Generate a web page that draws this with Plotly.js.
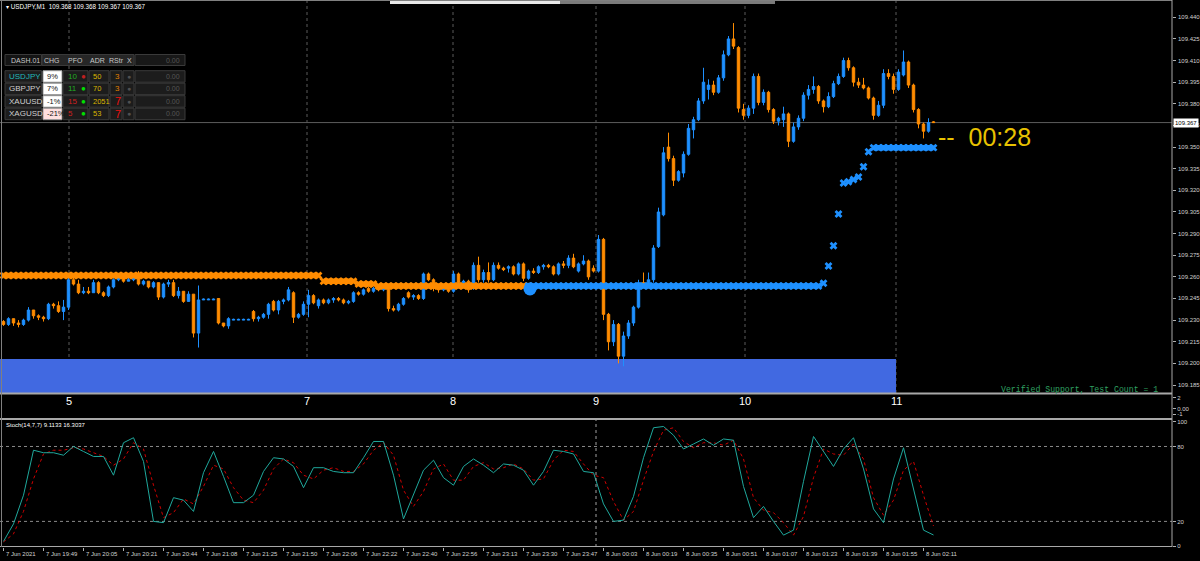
<!DOCTYPE html>
<html><head><meta charset="utf-8">
<script src="https://cdn.plot.ly/plotly-3.0.1.min.js"></script>
<style>html,body{margin:0;padding:0;background:#000;overflow:hidden}#chart{width:1200px;height:561px}</style>
</head><body><div id="chart"></div>
<script>
// ---------- DATA (prices in points above 109.000) ----------
const BASE = 109;
const openPts = [
229,227,231,228,227,230,237,233,232,231,
241,240,236,239,258,255,249,250,249,256,
249,247,253,258,260,257,258,259,255,257,
253,256,246,255,256,247,250,243,248,221,
244,244,244,245,228,226,230,230,230,230,
236,231,232,234,243,237,243,244,249,232,
234,241,247,240,244,242,244,245,244,242,
243,249,248,252,250,252,251,252,238,237,
241,249,246,247,245,262,258,252,251,252,
250,262,256,257,252,268,258,263,258,268,
266,266,267,262,269,259,264,263,267,268,
267,262,269,268,273,264,269,271,266,264,
286,234,215,227,205,219,228,239,256,255,
258,281,303,350,342,327,332,345,362,369,
382,390,393,388,398,414,425,419,376,372,
377,399,381,388,376,368,369,373,354,364,
370,386,390,392,382,378,385,394,399,410,
405,395,393,391,384,372,379,401,399,390,
400,409,393,376,366,361,367.5];
const highPts = [
230,232,231,230,231,239,237,234,233,242,
242,243,244,260,260,258,253,253,258,257,
250,254,259,262,261,260,260,264,258,257,
257,256,256,258,258,253,250,250,248,254,
245,245,245,245,228,232,231,231,231,231,
237,233,235,242,244,244,245,253,250,235,
243,251,248,245,245,245,246,246,245,244,
250,250,252,253,253,253,253,253,240,242,
246,250,248,248,263,263,259,253,253,253,
264,263,258,258,270,274,265,270,270,270,
267,268,268,270,270,265,266,268,269,269,
268,270,271,275,276,270,275,272,268,289,
287,235,230,228,222,230,240,258,263,263,
282,308,350,360,344,334,347,366,371,384,
405,397,396,400,417,427,436,420,380,379,
401,401,390,389,377,371,378,374,367,372,
388,393,399,393,383,388,396,401,412,412,
406,398,398,392,385,382,404,404,401,404,
417,410,394,377,367,370,368];
const lowPts = [
226,226,226,225,226,229,231,230,229,230,
238,235,230,237,254,248,248,248,249,248,
246,246,252,257,256,257,257,254,254,252,
252,244,245,253,246,245,242,243,218,211,
244,244,244,227,225,224,230,230,230,230,
229,229,231,231,236,234,241,243,228,231,
233,232,241,238,241,241,242,243,241,241,
242,247,247,249,249,250,250,236,236,236,
240,245,244,244,244,257,250,249,250,249,
249,255,254,249,251,256,256,256,257,265,
264,263,261,261,257,258,262,262,265,266,
261,261,266,266,266,263,268,258,263,263,
230,209,212,200,198,217,226,238,254,254,
256,280,302,340,323,326,329,344,356,368,
380,383,386,387,396,413,418,374,369,370,
373,379,379,374,366,365,364,350,353,362,
368,383,387,380,374,377,384,393,398,403,
392,391,390,383,369,371,377,397,387,389,
399,391,374,363,356,360,367];
const closePts = [
227,231,228,227,230,237,233,232,231,241,
240,236,239,258,255,249,250,249,256,249,
247,253,258,260,257,258,259,255,257,253,
256,246,255,256,247,250,243,248,221,244,
244.5,244.5,244.5,228,226,231,230.5,230.5,230.5,230.5,
231,232,234,241,237,243,244,251,232,234,
241,247,242,244,242,244,245,244,242,243,
249,248,251,250,252,251,252,238,237,241,
245,246,247,245,262,258,252,251,252,250,
262,256,257,251,268,258,263,258,268,266,
265,267,262,269,259,264,263,267,268,267,
262,269,268,273,267,269,271,260,264,286,
234,215,227,205,219,228,239,256,255,258,
280,305,346,342,327,333,345,363,369,382,
395,393,388,398,414,425,420,377,372,377,
399,381,388,376,368,370,373,354,364,370,
386,390,392,382,378,385,394,399,410,405,
395,393,391,384,372,379,401,399,390,402,
409,393,376,366,361,367,367];
// trailing-stop steps: [firstBar, lastBar, level in points]
const trailOrangeSteps = [[0,63,261],[64,70,257],[71,74,255],[75,105,253.7]];
const trailBlueSteps = [[105,163,253.7],[164,164,255.6],[165,165,267.5],[166,166,281.6],[167,167,303.6],
  [168,168,325.1],[169,169,326],[170,170,327.5],[171,171,329.3],[172,172,336.4],[173,173,346.8],[174,186,349.6]];
const switchDot = {bar:105.3, pts:251.6};
// Stochastic (every second bar)
const stochMain = [
4,18,41,77,75,75,73,80,76,72,
72,57,83,87,68,20,19,39,37,28,
59,76,56,35,35,41,60,71,70,64,
47,63,63,60,59,59,71,84,84,57,
22,42,61,69,55,49,64,70,65,59,
66,65,61,49,60,77,76,74,60,59,
34,20,21,40,71,95,96,89,78,82,
86,81,86,85,48,23,32,20,9,13,
52,88,76,64,78,87,62,30,19,54,
79,47,13,9.1133];
const stochSignal = [
3.6,10,28,54,74,77,77,79,78,75,
72,65,70,83,78,49,23,27,38,34,
48,65,62,47,37,35,45,62,70,67,
57,54,61,63,60,60,66,77,83,73,
45,32,44,62,66,53,53,64,67,62,
63,66,62,53,54,69,77,76,66,57,
55,36,21,28,53,76,93,95,84,79,
83,83,81,85,70,39,29,27,19,9,
24,55,78,74,73,82,70,39,25,37,
61,68,41,16.3037];
const stochLevels = [20, 80];
const stochTicks = [0, 20, 80, 100];
const priceTicks = [109.185,109.200,109.215,109.230,109.245,109.260,109.275,109.290,109.305,
  109.320,109.335,109.350,109.365,109.380,109.395,109.410,109.425,109.440];
const timeLabels = ['7 Jun 2021','7 Jun 19:49','7 Jun 20:05','7 Jun 20:21','7 Jun 20:44','7 Jun 21:08',
 '7 Jun 21:25','7 Jun 21:50','7 Jun 22:06','7 Jun 22:22','7 Jun 22:40','7 Jun 22:56','7 Jun 23:13',
 '7 Jun 23:30','7 Jun 23:47','8 Jun 00:03','8 Jun 00:19','8 Jun 00:35','8 Jun 00:51','8 Jun 01:07',
 '8 Jun 01:23','8 Jun 01:39','8 Jun 01:55','8 Jun 02:11'];
const barsPerLabel = 8;
const hourSepBars = [13.1, 60.7, 89.9, 118.5, 148.3, 178.5];
const hourSepLabels = ['5','7','8','9','10','11'];
const daySepBar = 118.5;
const supportTop = 109.203, supportEndBar = 178.5;
const bidPrice = 109.367;
const headerText = 'USDJPY,M1';
const headerQuote = ['109.368','109.368','109.367','109.367'];
const stochTitle = 'Stoch(14,7,7) 9.1133 16.3037';
const timerText = '00:28';
const zoneText = 'Verified Support, Test Count = 1';
const dashTitle = 'DASH.01';
const dashCols = ['CHG','PFO','ADR','RStr','X'];
const dashSymbols = ['USDJPY','GBPJPY','XAUUSD','XAGUSD'];
const dashChg = ['9%','7%','-1%','-21%'];
const dashPfo = [10,11,15,5];
const dashAdr = [50,70,2051,53];
const dashRstr = [3,3,7,7];
const dashValue = '0.00';

// ---------- STYLE / LAYOUT ----------
const BULL = '#1e90ff', BEAR = '#ff8c00';
const W = 1172, H = 547;
const px = x => x / W, py = y => 1 - y / H;
const P = v => BASE + v / 1000;
const FONT = 'Liberation Sans, Arial, sans-serif';
const bars = closePts.map((_, i) => i);
const xRange = [-0.7, 233.7];

function stepsToPoints(steps, withGaps){
  const xs=[], ys=[];
  steps.forEach(([a,b,v])=>{ for(let i=a;i<=b;i++){xs.push(i);ys.push(P(v));} if(withGaps){xs.push(null);ys.push(null);} });
  return {xs, ys};
}
const tO = stepsToPoints(trailOrangeSteps,false), tOl = stepsToPoints(trailOrangeSteps,true);
const tB = stepsToPoints(trailBlueSteps,false), tBl = stepsToPoints(trailBlueSteps.filter(s=>s[1]>s[0]),true);

const traces = [
 {type:'candlestick', x:bars, open:openPts.map(P), high:highPts.map(P), low:lowPts.map(P), close:closePts.map(P),
  xaxis:'x', yaxis:'y', whiskerwidth:0, hoverinfo:'skip',
  increasing:{line:{color:BULL,width:1}, fillcolor:BULL},
  decreasing:{line:{color:BEAR,width:1}, fillcolor:BEAR}},
 {type:'scatter', mode:'lines', x:tOl.xs, y:tOl.ys, line:{color:BEAR,width:5.5}, hoverinfo:'skip', xaxis:'x', yaxis:'y'},
 {type:'scatter', mode:'markers', x:tO.xs, y:tO.ys, marker:{symbol:'x', size:7, color:BEAR}, hoverinfo:'skip', xaxis:'x', yaxis:'y'},
 {type:'scatter', mode:'lines', x:tBl.xs, y:tBl.ys, line:{color:BULL,width:5.5}, hoverinfo:'skip', xaxis:'x', yaxis:'y'},
 {type:'scatter', mode:'markers', x:tB.xs, y:tB.ys, marker:{symbol:'x', size:7, color:BULL}, hoverinfo:'skip', xaxis:'x', yaxis:'y'},
 {type:'scatter', mode:'markers', x:[switchDot.bar], y:[P(switchDot.pts)], marker:{symbol:'circle', size:13, color:BULL}, hoverinfo:'skip', xaxis:'x', yaxis:'y'},
 {type:'scatter', mode:'lines', x:[0], y:[null], xaxis:'x', yaxis:'y2', hoverinfo:'skip'},
 {type:'scatter', mode:'lines', x:stochSignal.map((_,k)=>2*k), y:stochSignal, line:{color:'#d00000',width:1,dash:'dot'}, hoverinfo:'skip', xaxis:'x', yaxis:'y3'},
 {type:'scatter', mode:'lines', x:stochMain.map((_,k)=>2*k), y:stochMain, line:{color:'#1fa89c',width:1}, hoverinfo:'skip', xaxis:'x', yaxis:'y3'}
];

const axisFont = {family:FONT, size:6, color:'#d0d0d0'};
const shapes = [];
const ann = [];
// support zone
shapes.push({type:'rect', xref:'x', yref:'y', x0:xRange[0], x1:supportEndBar, y0:P(179.4), y1:supportTop, fillcolor:'#4169e1', line:{width:0}, layer:'below'});
// hour separators
hourSepBars.forEach((b,i)=>{
  shapes.push({type:'line', xref:'x', yref:'paper', x0:b, x1:b, y0:py(393), y1:1, line:{color:'#5a5a5a', width:1, dash:'dot'}, layer:'below'});
  ann.push({xref:'x', yref:'paper', x:b, y:py(401), text:hourSepLabels[i], showarrow:false, xanchor:'center', yanchor:'middle', font:{family:FONT,size:11,color:'#ffffff'}});
});
shapes.push({type:'line', xref:'x', yref:'paper', x0:daySepBar, x1:daySepBar, y0:0, y1:py(419), line:{color:'#a0a0a0', width:1, dash:'dot'}});
// stoch levels
stochLevels.forEach(l=>shapes.push({type:'line', xref:'paper', yref:'y3', x0:0, x1:1, y0:l, y1:l, line:{color:'#8a8a8a', width:1, dash:'dot'}, layer:'below'}));
// bid line
shapes.push({type:'line', xref:'paper', yref:'y', x0:0, x1:1, y0:bidPrice, y1:bidPrice, line:{color:'#5c5c5c', width:1}, layer:'below'});
// frame
const frameC = '#a8a8a8';
shapes.push({type:'line', xref:'paper', yref:'paper', x0:0, x1:1, y0:py(393.5), y1:py(393.5), line:{color:frameC,width:2}});
shapes.push({type:'line', xref:'paper', yref:'paper', x0:0, x1:1, y0:py(419), y1:py(419), line:{color:frameC,width:2}});
shapes.push({type:'line', xref:'paper', yref:'paper', x0:0, x1:1, y0:py(546.5), y1:py(546.5), line:{color:frameC,width:1}});
shapes.push({type:'line', xref:'paper', yref:'paper', x0:0, x1:1, y0:py(0.5), y1:py(0.5), line:{color:'#808080',width:1}});
shapes.push({type:'line', xref:'paper', yref:'paper', x0:px(1.5), x1:px(1.5), y0:0, y1:1, line:{color:'#808080',width:1}});
shapes.push({type:'line', xref:'paper', yref:'paper', x0:1, x1:1, y0:0, y1:1, line:{color:frameC,width:1}});
// top scroll indicator
shapes.push({type:'rect', xref:'paper', yref:'paper', x0:px(390), x1:px(560), y0:py(4), y1:py(1), fillcolor:'#e8e8e8', line:{width:0}});
shapes.push({type:'rect', xref:'paper', yref:'paper', x0:px(560), x1:px(775), y0:py(4), y1:py(1), fillcolor:'#7a7a7a', line:{width:0}});

// price-scale labels (placed at the main axis' tick values; ticks themselves come from the axis)
priceTicks.forEach(v=>ann.push({xref:'paper', yref:'y', x:px(1175.5), y:v, xanchor:'left', yanchor:'middle',
  showarrow:false, text:v.toFixed(3), font:axisFont}));
// time labels (left-aligned at their tick, as in the terminal)
timeLabels.forEach((t,k)=>ann.push({xref:'x', yref:'paper', x:k*barsPerLabel, y:py(553.5), xanchor:'left', yanchor:'middle',
  showarrow:false, text:t, font:axisFont}));
// header text
ann.push({xref:'paper', yref:'paper', x:px(4), y:py(6), xanchor:'left', yanchor:'middle', showarrow:false,
  text:'\u25BE ' + headerText + '\u00a0\u00a0' + headerQuote.join(' '), font:{family:FONT,size:6.3,color:'#ffffff'}});
ann.push({xref:'paper', yref:'paper', x:px(4), y:py(425), xanchor:'left', yanchor:'middle', showarrow:false,
  text:stochTitle, font:{family:FONT,size:6,color:'#ffffff'}});
// timer
ann.push({xref:'paper', yref:'paper', x:px(936), y:py(136.5), xanchor:'left', yanchor:'middle', showarrow:false,
  text:'--\u00a0\u00a0' + timerText, font:{family:FONT,size:25,color:'#e8c200'}});
// zone label
ann.push({xref:'paper', yref:'paper', x:px(1160), y:py(389), xanchor:'right', yanchor:'middle', showarrow:false,
  text:zoneText, font:{family:'Liberation Mono, monospace',size:8.2,color:'#2fa060'}});
// price tag (drawn after the scale labels so it covers 109.365, as in the terminal)
ann.push({xref:'paper', yref:'y', x:px(1173), y:bidPrice, xanchor:'left', yanchor:'middle', showarrow:false,
  text:bidPrice.toFixed(3), bgcolor:'#ffffff', borderpad:1, font:{family:FONT,size:6,color:'#000000'}});

// dashboard
function rect(x0,y0,x1,y1,fill,lc){ shapes.push({type:'rect', xref:'paper', yref:'paper', x0:px(x0), x1:px(x1), y0:py(y1), y1:py(y0), fillcolor:fill, line:{color:lc||'#3a3a3a', width:1}}); }
function txt(x,y,t,size,color,anchor){ ann.push({xref:'paper', yref:'paper', x:px(x), y:py(y), text:String(t), showarrow:false, xanchor:anchor||'left', yanchor:'middle', font:{family:FONT,size:size,color:color}}); }
rect(5,54.5,41.5,65.5,'#141414'); rect(42,54.5,134,65.5,'#262626'); rect(135,54.5,185,65.5,'#181818');
txt(9,60,dashTitle,7,'#c8c8c8');
const headX = [52,75,97,116,129];
dashCols.forEach((c,i)=>txt(headX[i],60,c,7,'#c8c8c8','center'));
txt(182,60,dashValue,7,'#555555','right');
const rowTop = [70.7,83.2,95.7,108.2];
const symColor = ['#22b8b8','#cfcfcf','#cfcfcf','#cfcfcf'];
const chgBg = ['#ffffff','#ffffff','#ffffff','#ffe0e0'];
const pfoColor = ['#22aa22','#22aa22','#d02020','#d02020'];
const pfoDot = ['#c02020','#00e000','#00e000','#00e000'];
const rstrColor = ['#e08000','#e08000','#ee1111','#ee1111'];
const rstrSize = [8,8,11,11];
dashSymbols.forEach((s,r)=>{
  const y0 = rowTop[r], y1 = y0 + 11.5, yc = (y0+y1)/2;
  rect(5,y0,41.5,y1,'#1c1c1c'); rect(43,y0,62,y1,chgBg[r],'#9a9a9a'); rect(63,y0,88,y1,'#1c1c1c');
  rect(89,y0,109,y1,'#1c1c1c'); rect(110,y0,122,y1,'#1c1c1c'); rect(123,y0,134,y1,'#1c1c1c'); rect(135,y0,185,y1,'#1c1c1c');
  txt(7,yc,s,8,symColor[r]);
  txt(45,yc,dashChg[r],7.5,'#111111');
  txt(66,yc,dashPfo[r],8,pfoColor[r]);
  txt(83,yc,'\u25CF',8,pfoDot[r],'center');
  txt(91,yc,dashAdr[r],7.5,'#d8b400');
  txt(113,yc,dashRstr[r],rstrSize[r],rstrColor[r]);
  txt(129,yc,'\u25CF',7,'#505050','center');
  txt(182,yc,dashValue,7,'#555555','right');
});

const yAxisCommon = {side:'right', anchor:'x', ticks:'outside', ticklen:3, tickcolor:'#b0b0b0', tickfont:axisFont,
  showgrid:false, zeroline:false, fixedrange:true};
const layout = {
  width:1200, height:561, autosize:false,
  margin:{l:0, r:28, t:0, b:14, pad:0},
  paper_bgcolor:'#000000', plot_bgcolor:'#000000',
  showlegend:false, hovermode:false, boxgap:0.3,
  font:{family:FONT, color:'#d0d0d0'},
  xaxis:{domain:[0,1], range:xRange, anchor:'y3', rangeslider:{visible:false}, showgrid:false, zeroline:false,
    tickmode:'array', tickvals:timeLabels.map((_,k)=>k*barsPerLabel), ticks:'outside', ticklen:3, tickcolor:'#b0b0b0',
    showticklabels:false, showline:false, fixedrange:true},
  yaxis:Object.assign({}, yAxisCommon, {domain:[154/H,1], range:[109.17946,109.452], tickmode:'array', tickvals:priceTicks,
    showticklabels:false}),
  yaxis2:Object.assign({}, yAxisCommon, {domain:[128/H,153/H], range:[-1.9,2.7], tickmode:'array', tickvals:[2,0,-1], ticktext:['2','0.00','-1']}),
  yaxis3:Object.assign({}, yAxisCommon, {domain:[0,128/H], range:[-0.5,102], tickmode:'array', tickvals:stochTicks}),
  shapes:shapes, annotations:ann
};
Plotly.newPlot('chart', traces, layout, {displayModeBar:false, staticPlot:true});
</script></body></html>
